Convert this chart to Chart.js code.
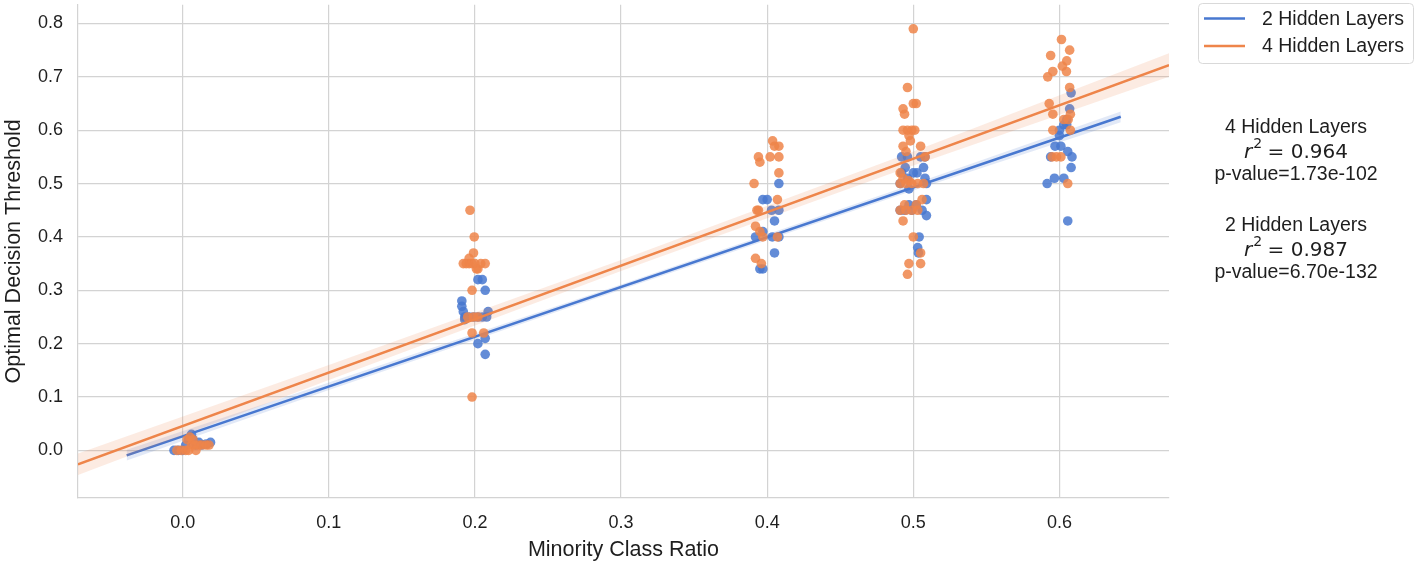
<!DOCTYPE html>
<html>
<head>
<meta charset="utf-8">
<title>Optimal Decision Threshold vs Minority Class Ratio</title>
<script src="https://cdn.jsdelivr.net/npm/chart.js@4.4.1/dist/chart.umd.min.js"></script>
<style>
  html, body { margin: 0; padding: 0; background: #fff; }
  #wrap { width: 1418px; height: 564px; }
</style>
</head>
<body>
<div id="wrap"><canvas id="thresholdChart"></canvas></div>
<script>
// Tick labels
const xTicks = [0.0, 0.1, 0.2, 0.3, 0.4, 0.5, 0.6];
const yTicks = [0.0, 0.1, 0.2, 0.3, 0.4, 0.5, 0.6, 0.7, 0.8];

// 2 Hidden Layers - scatter (x is jittered minority class ratio)
const twoLayerX = [
    -0.006, -0.003, 0.000, 0.002, 0.004, 0.006, 0.007, 0.009, 0.011, 0.013, 0.016, 0.019,
    0.202, 0.205, 0.207, 0.191, 0.191, 0.192, 0.193, 0.193, 0.196, 0.199, 0.202, 0.205, 0.208, 0.209, 0.207, 0.202, 0.207,
    0.408, 0.397, 0.400, 0.408, 0.403, 0.405, 0.397, 0.392, 0.4035, 0.408, 0.405, 0.395, 0.397,
    0.492, 0.496, 0.505, 0.508, 0.4945, 0.507, 0.500, 0.492, 0.5025, 0.496, 0.508, 0.491, 0.509, 0.497, 0.509,
    0.491, 0.494, 0.499, 0.502, 0.497, 0.506, 0.509, 0.504, 0.503, 0.5035,
    0.608, 0.607, 0.605, 0.603, 0.605, 0.600, 0.600, 0.597, 0.601, 0.594, 0.6057, 0.6086, 0.608, 0.5966, 0.603, 0.5916, 0.6057
];
const twoLayerY = [
    0.000, 0.000, 0.000, 0.010, 0.020, 0.030, 0.020, 0.010, 0.015, 0.010, 0.012, 0.015,
    0.32, 0.32, 0.30, 0.28, 0.27, 0.26, 0.25, 0.245, 0.25, 0.25, 0.25, 0.25, 0.25, 0.26, 0.21, 0.20, 0.18,
    0.50, 0.47, 0.47, 0.45, 0.45, 0.43, 0.41, 0.40, 0.40, 0.40, 0.37, 0.34, 0.34,
    0.55, 0.55, 0.55, 0.55, 0.53, 0.53, 0.52, 0.52, 0.52, 0.51, 0.51, 0.50, 0.50, 0.49, 0.47,
    0.45, 0.45, 0.45, 0.46, 0.46, 0.45, 0.44, 0.40, 0.38, 0.37,
    0.67, 0.64, 0.62, 0.61, 0.61, 0.60, 0.59, 0.57, 0.57, 0.55, 0.56, 0.55, 0.53, 0.51, 0.51, 0.50, 0.43
];

// 4 Hidden Layers - scatter
const fourLayerX = [
    -0.004, -0.001, 0.002, 0.004, 0.006, 0.007, 0.009, 0.011, 0.013, 0.016, 0.018, 0.003, 0.005, 0.008,
    0.1966, 0.1995, 0.199, 0.196, 0.192, 0.194, 0.196, 0.198, 0.200, 0.202, 0.204, 0.207, 0.201, 0.198, 0.195, 0.199, 0.202, 0.198, 0.206, 0.198,
    0.4037, 0.405, 0.408, 0.394, 0.402, 0.408, 0.395, 0.408, 0.391, 0.407, 0.393, 0.394, 0.392, 0.395, 0.397, 0.407, 0.392, 0.396,
    0.500, 0.496, 0.500, 0.502, 0.493, 0.494, 0.493, 0.496, 0.499, 0.501, 0.497, 0.498, 0.493, 0.505, 0.495, 0.508,
    0.491, 0.493, 0.497, 0.491, 0.495, 0.499, 0.503, 0.507, 0.506, 0.494, 0.502, 0.491, 0.495, 0.499, 0.503,
    0.493, 0.500, 0.505, 0.497, 0.505, 0.496,
    0.6014, 0.607, 0.594, 0.605, 0.602, 0.5955, 0.6048, 0.592, 0.607, 0.593, 0.5955, 0.6075, 0.603, 0.606, 0.5955, 0.6075, 0.595, 0.598, 0.601, 0.6057
];
const fourLayerY = [
    0.000, 0.000, 0.000, 0.000, 0.010, 0.020, 0.000, 0.010, 0.010, 0.010, 0.010, 0.020, 0.025, 0.010,
    0.45, 0.40, 0.37, 0.36, 0.35, 0.35, 0.35, 0.35, 0.35, 0.34, 0.35, 0.35, 0.34, 0.30, 0.25, 0.25, 0.25, 0.22, 0.22, 0.10,
    0.58, 0.57, 0.57, 0.55, 0.55, 0.55, 0.54, 0.52, 0.50, 0.47, 0.45, 0.45, 0.42, 0.41, 0.40, 0.40, 0.36, 0.35,
    0.79, 0.68, 0.65, 0.65, 0.64, 0.63, 0.60, 0.60, 0.60, 0.60, 0.59, 0.58, 0.57, 0.57, 0.56, 0.55,
    0.52, 0.51, 0.505, 0.50, 0.50, 0.50, 0.50, 0.50, 0.47, 0.46, 0.46, 0.45, 0.45, 0.45, 0.45,
    0.43, 0.40, 0.37, 0.35, 0.35, 0.33,
    0.77, 0.75, 0.74, 0.73, 0.72, 0.71, 0.71, 0.70, 0.68, 0.65, 0.63, 0.63, 0.62, 0.62, 0.60, 0.60, 0.55, 0.55, 0.55, 0.50
];

// Regression lines (ends of each fitted line)
const twoLayerFitX = [-0.0384, 0.642];
const twoLayerFitY = [-0.0093, 0.6252];
const fourLayerFitX = [-0.0717, 0.675];
const fourLayerFitY = [-0.026, 0.722];

// Confidence bands
const twoLayerBandX = [-0.0384, 0.1, 0.3, 0.5, 0.642];
const twoLayerBandHigh = [0.001, 0.127, 0.311, 0.499, 0.635];
const twoLayerBandLow = [-0.019, 0.113, 0.301, 0.487, 0.615];
const fourLayerBandX = [-0.0717, 0.1, 0.3, 0.5, 0.675];
const fourLayerBandHigh = [-0.006, 0.160, 0.357, 0.560, 0.744];
const fourLayerBandLow = [-0.046, 0.132, 0.336, 0.534, 0.700];

// Legend / stats text
const seriesNames = ['2 Hidden Layers', '4 Hidden Layers'];
const statsBlocks = [
    { name: '4 Hidden Layers', r2: '0.964', p: '1.73e-102' },
    { name: '2 Hidden Layers', r2: '0.987', p: '6.70e-132' }
];

const BLUE = '#4878d0';
const ORANGE = '#ee854a';
const GRID = '#d3d3d3';
const TEXT = '#1e1e1e';
const FONT = "'Liberation Sans', Arial, sans-serif";

function zip(xs, ys) {
    return xs.map((x, i) => ({ x: x, y: ys[i] }));
}

// Draws the legend box and the r^2 / p-value notes on the right side
const sideNotes = {
    id: 'sideNotes',
    afterDraw(chart) {
        const ctx = chart.ctx;
        ctx.save();

        // legend frame
        const bx = 1198.5, by = 3.5, bw = 215, bh = 60, r = 4;
        ctx.beginPath();
        ctx.moveTo(bx + r, by);
        ctx.arcTo(bx + bw, by, bx + bw, by + bh, r);
        ctx.arcTo(bx + bw, by + bh, bx, by + bh, r);
        ctx.arcTo(bx, by + bh, bx, by, r);
        ctx.arcTo(bx, by, bx + bw, by, r);
        ctx.closePath();
        ctx.fillStyle = 'rgba(255,255,255,0.8)';
        ctx.fill();
        ctx.strokeStyle = '#d9d9d9';
        ctx.lineWidth = 1;
        ctx.stroke();

        const colors = [BLUE, ORANGE];
        ctx.font = '19.5px ' + FONT;
        ctx.textBaseline = 'middle';
        ctx.textAlign = 'left';
        seriesNames.forEach((name, i) => {
            const y = 18.5 + i * 27.5;
            ctx.strokeStyle = colors[i];
            ctx.lineWidth = 2.5;
            ctx.beginPath();
            ctx.moveTo(1204, y);
            ctx.lineTo(1245, y);
            ctx.stroke();
            ctx.fillStyle = TEXT;
            ctx.fillText(name, 1262, y + 1);
        });

        // stats text
        const cx = 1296;
        ctx.fillStyle = TEXT;
        statsBlocks.forEach((b, i) => {
            const top = 128 + i * 98;
            ctx.font = '19.5px ' + FONT;
            ctx.textAlign = 'center';
            ctx.fillText(b.name, cx, top);

            // r^2 = value, mathtext style
            const rFont = 'italic 20px DejaVu Sans, sans-serif';
            const supFont = '14px DejaVu Sans, sans-serif';
            const eqFont = '20px DejaVu Sans, sans-serif';
            const eqText = ' = ' + b.r2;
            ctx.font = rFont; const wr = ctx.measureText('r').width;
            ctx.font = supFont; const ws = ctx.measureText('2').width;
            ctx.font = eqFont; const we = ctx.measureText(eqText).width;
            let x0 = cx - (wr + ws + we) / 2;
            const ry = top + 24.5;
            ctx.textAlign = 'left';
            ctx.font = rFont; ctx.fillText('r', x0, ry); x0 += wr + 1;
            ctx.font = supFont; ctx.fillText('2', x0, ry - 8); x0 += ws - 1;
            ctx.font = eqFont; ctx.fillText(eqText, x0, ry);

            ctx.font = '19.5px ' + FONT;
            ctx.textAlign = 'center';
            ctx.fillText('p-value=' + b.p, cx, top + 46.5);
        });
        ctx.restore();
    }
};

const ctx = document.getElementById('thresholdChart').getContext('2d');

new Chart(ctx, {
    type: 'scatter',
    data: {
        datasets: [
            {
                label: seriesNames[1] + ' fit',
                type: 'line',
                data: zip(fourLayerFitX, fourLayerFitY),
                borderColor: ORANGE,
                borderWidth: 2.6,
                pointRadius: 0,
                fill: false,
                order: 0
            },
            {
                label: seriesNames[1] + ' ci high',
                type: 'line',
                data: zip(fourLayerBandX, fourLayerBandHigh),
                borderWidth: 0,
                pointRadius: 0,
                backgroundColor: 'rgba(238,133,74,0.16)',
                fill: '+1',
                order: 1
            },
            {
                label: seriesNames[1] + ' ci low',
                type: 'line',
                data: zip(fourLayerBandX, fourLayerBandLow),
                borderWidth: 0,
                pointRadius: 0,
                fill: false,
                order: 1
            },
            {
                label: seriesNames[1],
                data: zip(fourLayerX, fourLayerY),
                backgroundColor: 'rgba(238,133,74,0.85)',
                borderWidth: 0,
                pointRadius: 4.8,
                order: 2
            },
            {
                label: seriesNames[0] + ' fit',
                type: 'line',
                data: zip(twoLayerFitX, twoLayerFitY),
                borderColor: BLUE,
                borderWidth: 2.6,
                pointRadius: 0,
                fill: false,
                order: 3
            },
            {
                label: seriesNames[0] + ' ci high',
                type: 'line',
                data: zip(twoLayerBandX, twoLayerBandHigh),
                borderWidth: 0,
                pointRadius: 0,
                backgroundColor: 'rgba(72,120,208,0.16)',
                fill: '+1',
                order: 4
            },
            {
                label: seriesNames[0] + ' ci low',
                type: 'line',
                data: zip(twoLayerBandX, twoLayerBandLow),
                borderWidth: 0,
                pointRadius: 0,
                fill: false,
                order: 4
            },
            {
                label: seriesNames[0],
                data: zip(twoLayerX, twoLayerY),
                backgroundColor: 'rgba(72,120,208,0.85)',
                borderWidth: 0,
                pointRadius: 4.8,
                order: 5
            }
        ]
    },
    options: {
        responsive: true,
        maintainAspectRatio: false,
        animation: false,
        devicePixelRatio: 1,
        layout: {
            padding: { top: 3, right: 249, left: 0, bottom: 0 }
        },
        plugins: {
            legend: { display: false },
            tooltip: { enabled: false }
        },
        scales: {
            x: {
                type: 'linear',
                min: -0.0717,
                max: 0.675,
                afterBuildTicks: scale => { scale.ticks = xTicks.map(v => ({ value: v })); },
                afterFit: scale => {
                    scale.height = 66;
                    scale.paddingLeft = 0;
                    scale.paddingRight = 0;
                },
                grid: { color: GRID, lineWidth: 1.2, drawTicks: false },
                border: { color: GRID, width: 1.2 },
                ticks: {
                    padding: 14,
                    color: TEXT,
                    font: { family: FONT, size: 18 },
                    callback: v => v.toFixed(1)
                },
                title: {
                    display: true,
                    text: 'Minority Class Ratio',
                    color: TEXT,
                    font: { family: FONT, size: 21.5 },
                    padding: { top: 0, bottom: 1 }
                }
            },
            y: {
                type: 'linear',
                min: -0.0892,
                max: 0.835,
                afterBuildTicks: scale => { scale.ticks = yTicks.map(v => ({ value: v })); },
                afterFit: scale => {
                    scale.width = 78;
                    scale.paddingTop = 0;
                    scale.paddingBottom = 0;
                },
                grid: { color: GRID, lineWidth: 1.2, drawTicks: false },
                border: { color: GRID, width: 1.2 },
                ticks: {
                    padding: 15,
                    color: TEXT,
                    font: { family: FONT, size: 18 },
                    callback: v => v.toFixed(1)
                },
                title: {
                    display: true,
                    text: 'Optimal Decision Threshold',
                    color: TEXT,
                    font: { family: FONT, size: 21.5 },
                    padding: { top: 1, bottom: 0 }
                }
            }
        }
    },
    plugins: [sideNotes]
});
</script>
</body>
</html>
